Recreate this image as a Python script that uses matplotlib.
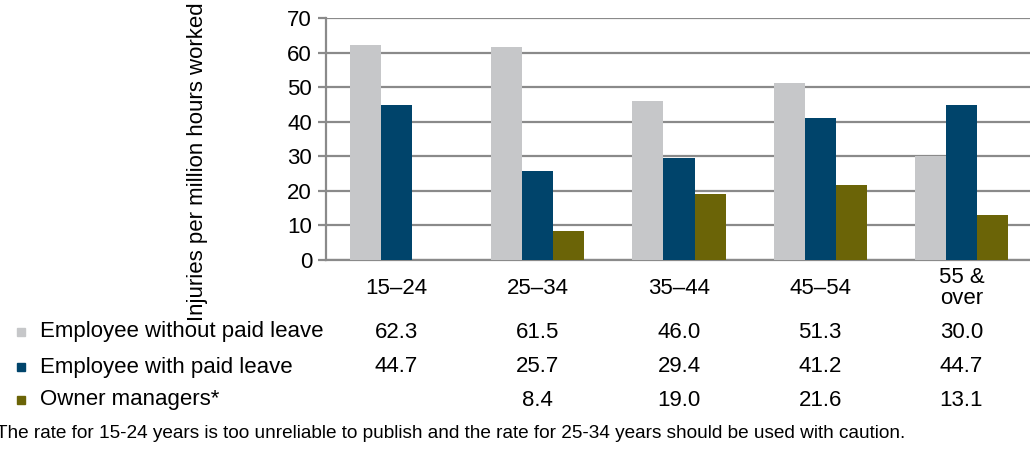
import numpy as np
import matplotlib.pyplot as plt
from matplotlib.patches import Rectangle

plt.rcParams["font.family"] = ["Liberation Sans", "DejaVu Sans"]

categories = ["15\u201324", "25\u201334", "35\u201344", "45\u201354", "55 &\nover"]
series = ["Employee without paid leave", "Employee with paid leave", "Owner managers*"]
without_leave = [62.3, 61.5, 46.0, 51.3, 30.0]
with_leave = [44.7, 25.7, 29.4, 41.2, 44.7]
owner_managers = [np.nan, 8.4, 19.0, 21.6, 13.1]
colors = ["#c6c7c9", "#00446b", "#6b6407"]
footnote = ("The rate for 15-24 years is too unreliable to publish and the rate "
            "for 25-34 years should be used with caution.")

W, H = 1030, 449
fig = plt.figure(figsize=(W / 100, H / 100), dpi=100)
ax = fig.add_axes([326 / W, (H - 260) / H, 706 / W, (260 - 18) / H])

x = np.arange(len(categories))
bw = 0.22
values = [without_leave, with_leave, owner_managers]
for i, (vals, c) in enumerate(zip(values, colors)):
    ax.bar(x + (i - 1) * bw, vals, bw, color=c, zorder=3)

grid_c = "#8a8a8a"
fs = 16
ax.set_xlim(-0.5, len(categories) - 0.5)
ax.set_ylim(0, 70)
ax.set_yticks(range(0, 71, 10))
ax.yaxis.grid(True, color=grid_c, lw=1.6, zorder=0)
ax.set_xticks([])
for s in ["top", "right"]:
    ax.spines[s].set_visible(False)
for s in ["left", "bottom"]:
    ax.spines[s].set_color(grid_c)
    ax.spines[s].set_linewidth(1.6)
ax.tick_params(axis="y", length=6, width=1.6, color=grid_c, labelsize=fs, pad=4)

ax.set_ylabel("Injuries per million hours worked", fontsize=fs)
ax.yaxis.set_label_coords((197 - 326) / 706, (260 - 162) / 242)
ax.yaxis.label.set_va("center")

# category labels and data table below the axes
trans = ax.get_xaxis_transform()
def fy(py):
    return 1 - py / H

for xi, cat in zip(x, categories):
    ax.text(xi, (260 - 288) / 242, cat, transform=trans, ha="center", va="center",
            fontsize=fs, linespacing=1.0)

row_y = [332, 367, 400]
for vals, name, c, py in zip(values, series, colors, row_y):
    fig.patches.append(Rectangle((17 / W, fy(py + 4)), 8 / W, 8 / H,
                                 transform=fig.transFigure, color=c))
    fig.text(40 / W, fy(py), name, fontsize=fs, va="center", ha="left")
    for xi, v in zip(x, vals):
        if not np.isnan(v):
            ax.text(xi, (260 - py) / 242, f"{v:.1f}", transform=trans,
                    ha="center", va="center", fontsize=fs)

fig.text(-4 / W, fy(433), footnote, fontsize=13.7, va="center", ha="left")

fig.savefig("out.png", dpi=100)
